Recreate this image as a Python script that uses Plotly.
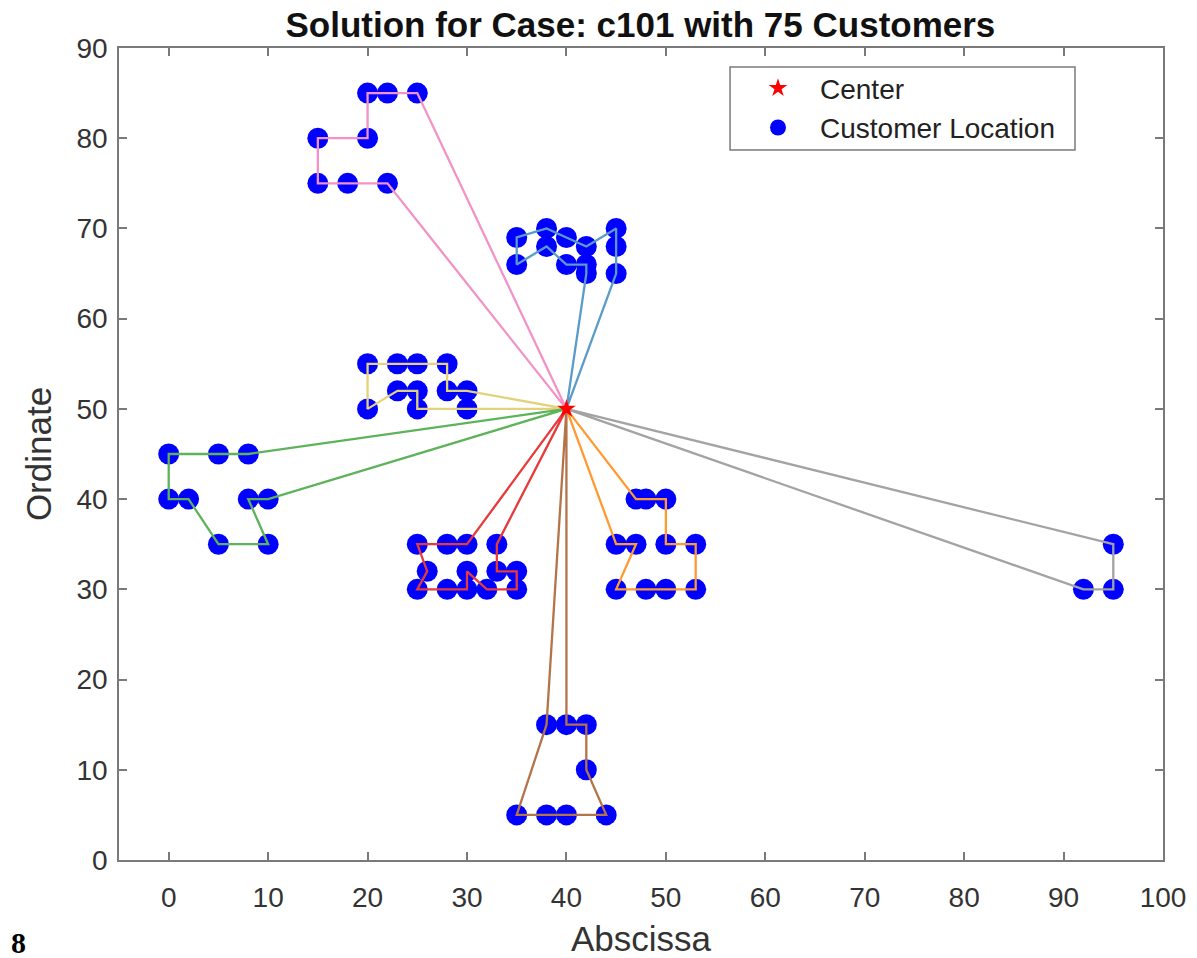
import plotly.graph_objects as go

# ---- data ----
depot = (40, 50)
cust_x = [45, 45, 42, 42, 42, 40, 40, 38, 38, 35, 35, 25, 22, 22, 20, 20, 18, 15, 15,
          30, 30, 28, 28, 25, 25, 25, 23, 23, 20, 20, 10, 10, 8, 8, 5, 5, 2, 0, 0,
          35, 35, 33, 33, 32, 30, 30, 30, 28, 28, 26, 25, 25, 44, 42, 42, 40, 40, 38, 38, 35,
          50, 50, 50, 48, 48, 47, 47, 45, 45, 95, 95, 53, 92, 53, 45]
cust_y = [68, 70, 66, 68, 65, 69, 66, 68, 70, 66, 69, 85, 75, 85, 80, 85, 75, 75, 80,
          50, 52, 52, 55, 50, 52, 55, 52, 55, 50, 55, 35, 40, 40, 45, 35, 45, 40, 40, 45,
          30, 32, 32, 35, 30, 30, 32, 35, 30, 35, 32, 30, 35, 5, 10, 15, 5, 15, 5, 15, 5,
          30, 35, 40, 30, 40, 35, 40, 30, 35, 30, 35, 30, 30, 35, 65]

# routes as customer numbers (1-based), each starts and ends at the depot
routes = [
    [5, 3, 7, 8, 10, 11, 9, 6, 4, 2, 1, 75],
    [12, 14, 16, 15, 19, 18, 17, 13],
    [21, 22, 23, 26, 28, 30, 29, 27, 25, 24, 20],
    [34, 36, 39, 38, 37, 35, 31, 33, 32],
    [47, 49, 52, 50, 51, 48, 45, 46, 44, 40, 41, 42, 43],
    [67, 65, 63, 62, 74, 72, 61, 64, 68, 66, 69],
    [57, 55, 54, 53, 56, 58, 60, 59],
    [71, 70, 73],
]
route_colors = ["#5b9bc9", "#f292c6", "#e2d27c", "#5cb35a", "#e63b3b",
                "#ff9a33", "#b3744a", "#a3a3a3"]

fig = go.Figure()

fig.add_trace(go.Scatter(
    x=cust_x, y=cust_y, mode="markers", name="Customer Location",
    marker=dict(color="#0000ff", size=21, line=dict(width=0)),
    legendrank=2, hoverinfo="x+y"))

for r, c in zip(routes, route_colors):
    xs = [depot[0]] + [cust_x[i - 1] for i in r] + [depot[0]]
    ys = [depot[1]] + [cust_y[i - 1] for i in r] + [depot[1]]
    fig.add_trace(go.Scatter(x=xs, y=ys, mode="lines", showlegend=False,
                             line=dict(color=c, width=2.3), hoverinfo="skip"))

fig.add_trace(go.Scatter(
    x=[depot[0]], y=[depot[1]], mode="markers", name="Center",
    marker=dict(color="#ff0000", symbol="star", size=14, line=dict(width=0)),
    legendrank=1))

axis_common = dict(
    showgrid=False, zeroline=False, showline=True, linecolor="#7a7a7a", linewidth=1.5,
    mirror="ticks", ticks="inside", ticklen=8, tickwidth=1.5, tickcolor="#7a7a7a",
    automargin=False,
    tickfont=dict(family="Liberation Sans, Arial", size=28, color="#333333"),
)

fig.update_layout(
    width=1197, height=958,
    margin=dict(l=119, r=34, t=48, b=98),
    paper_bgcolor="white", plot_bgcolor="white",
    title=dict(text="<b>Solution for Case: c101 with 75 Customers</b>",
               x=0.535, xanchor="center", y=0.974, yanchor="middle",
               font=dict(family="Liberation Sans, Arial", size=35, color="#111111")),
    xaxis=dict(range=[-5, 100], tickmode="array", tickvals=list(range(0, 101, 10)),
               ticklabelstandoff=12,
               title=dict(text="Abscissa", standoff=18,
                          font=dict(family="Liberation Sans, Arial", size=35, color="#333333")),
               **axis_common),
    yaxis=dict(range=[0, 90], tickmode="array", tickvals=list(range(0, 91, 10)),
               ticklabelstandoff=4,
               title=dict(text="Ordinate", standoff=14,
                          font=dict(family="Liberation Sans, Arial", size=35, color="#333333")),
               **axis_common),
    legend=dict(x=0.591, y=0.981, xanchor="left", yanchor="top",
                bgcolor="rgba(0,0,0,0)", borderwidth=0, itemwidth=74,
                font=dict(family="Liberation Sans, Arial", size=28, color="#222222"),
                tracegroupgap=0),
    shapes=[dict(type="rect", xref="paper", yref="paper",
                 x0=0.5853, x1=0.9157, y0=0.8744, y1=0.9766,
                 line=dict(color="#7a7a7a", width=1.5), fillcolor="rgba(0,0,0,0)")],
    annotations=[dict(text="<b>8</b>", xref="paper", yref="paper",
                      x=-0.0967, y=-0.101, xanchor="center", yanchor="middle",
                      showarrow=False,
                      font=dict(family="Liberation Serif, Times New Roman", size=30, color="#000000"))],
)

fig.write_html("out.html")
